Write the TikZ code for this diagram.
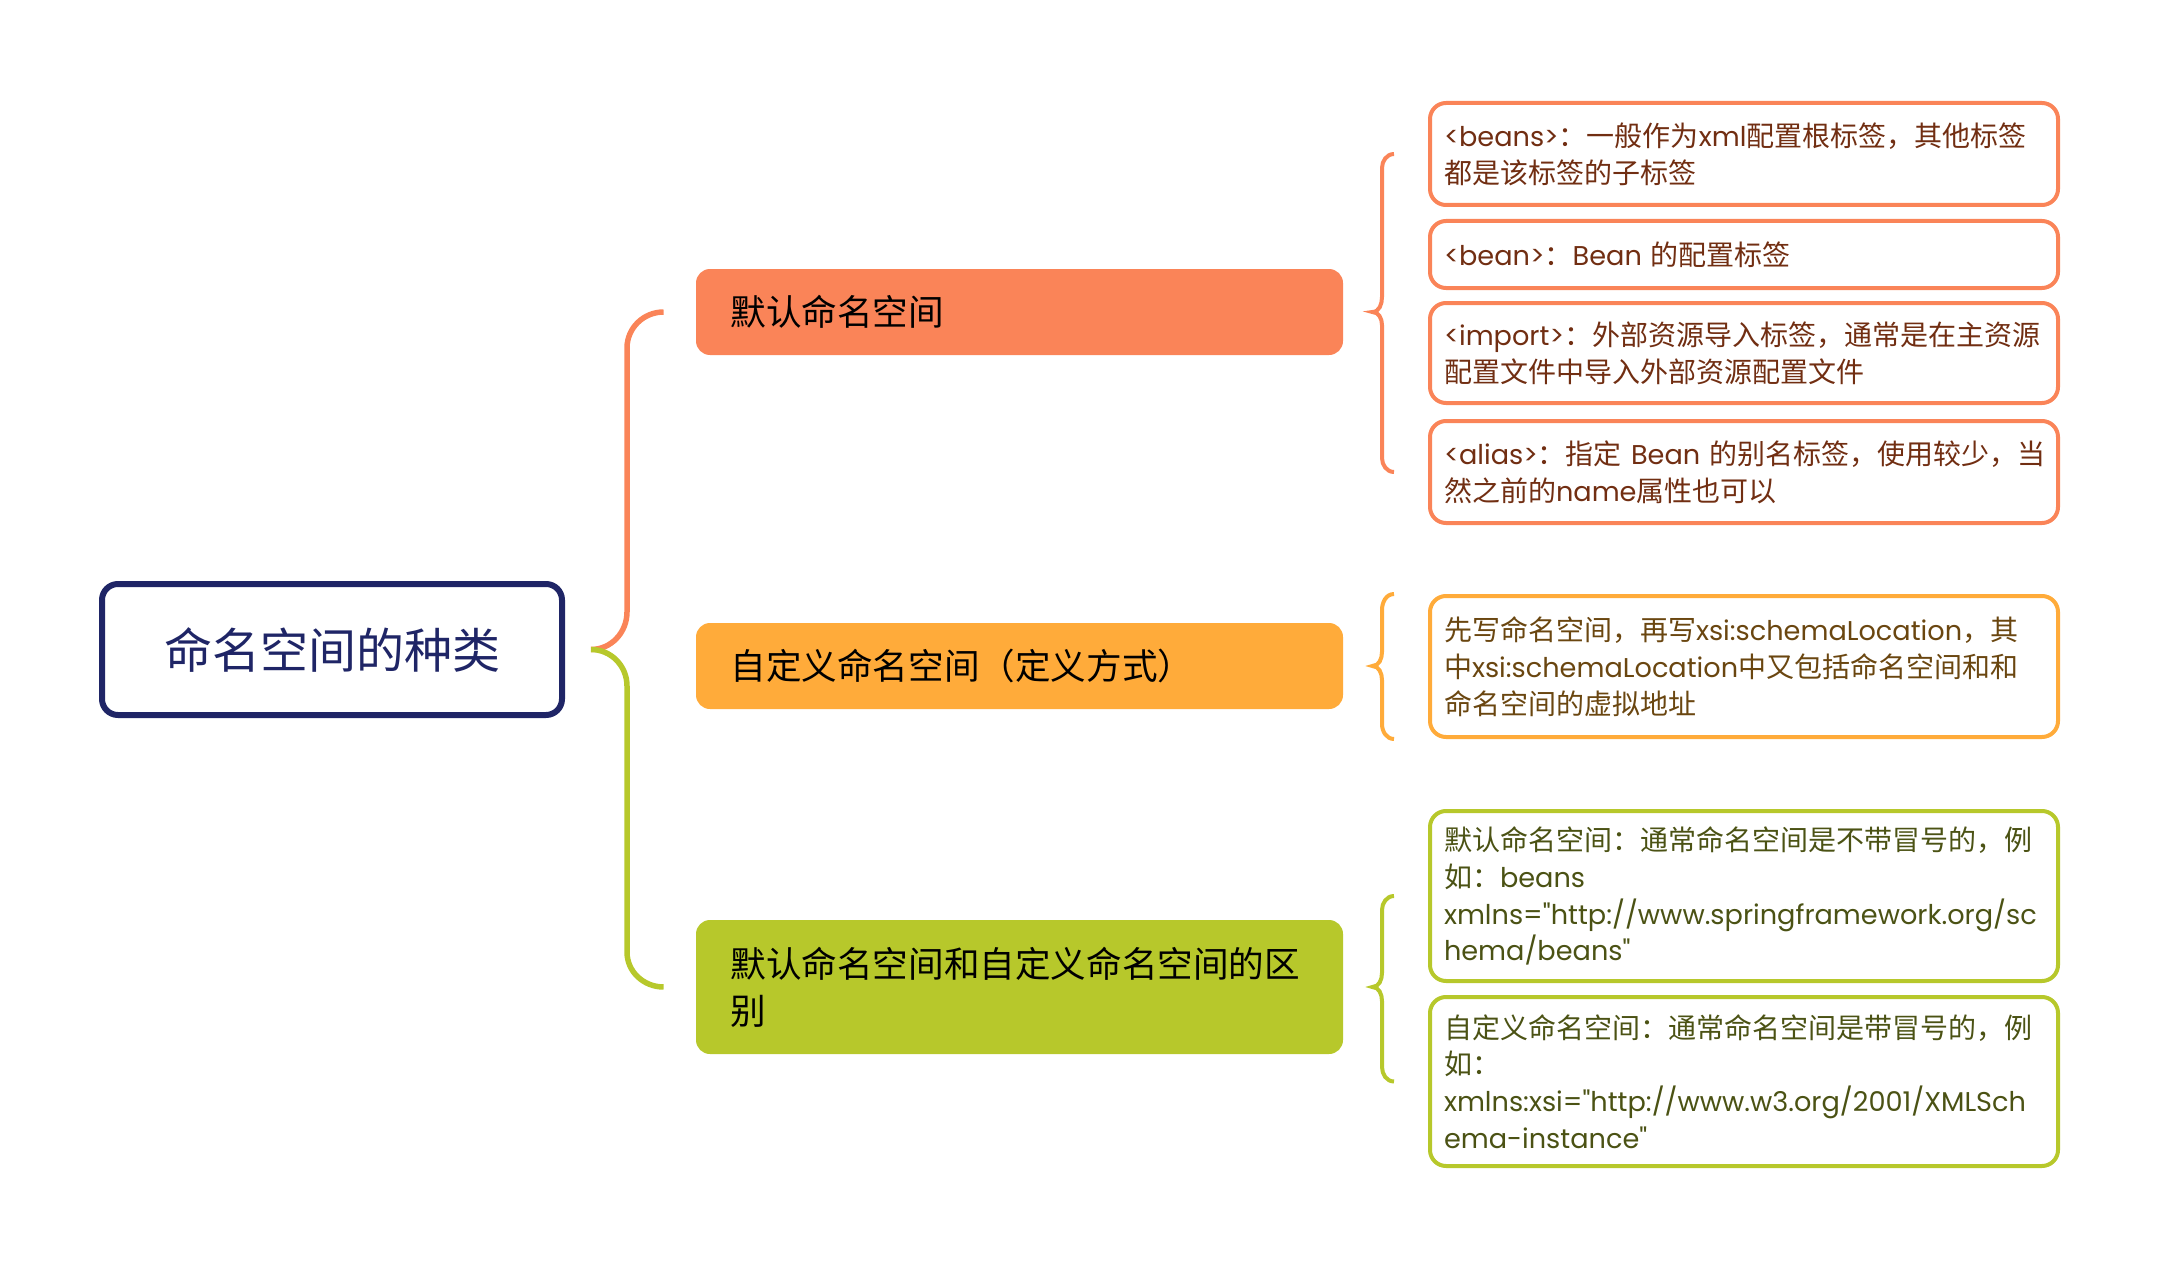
\documentclass[tikz,border=0pt]{standalone}
\usepackage{fontspec}
\setmainfont[Scale=0.97]{Poppins}
\newfontfamily\cjkfont{Noto Sans CJK SC}
\newfontfamily\latfont[Scale=0.97]{Poppins}
% chinese letters get the cjk font, the rest stays latin
\XeTeXinterchartokenstate=1
\newXeTeXintercharclass\hanclass
\def\sethan#1#2{\count255=#1 \loop\XeTeXcharclass\count255=\hanclass\relax\ifnum\count255<#2 \advance\count255 by 1 \repeat}
\sethan{"3000}{"303F}
\sethan{"4E00}{"9FFF}
\sethan{"FF00}{"FFEF}
\XeTeXinterchartoks 0 \hanclass = {\cjkfont}
\XeTeXinterchartoks 4095 \hanclass = {\cjkfont}
\XeTeXinterchartoks \hanclass 0 = {\latfont}
\XeTeXinterchartoks 4095 0 = {\latfont}

\definecolor{mmNavy}{HTML}{1F2566}
\definecolor{mmOrange}{HTML}{FA8458}
\definecolor{mmYellow}{HTML}{FFAB3A}
\definecolor{mmGreen}{HTML}{B7C82B}
\definecolor{txOrange}{HTML}{712E12}
\definecolor{txYellow}{HTML}{6A4610}
\definecolor{txGreen}{HTML}{4B5214}

\begin{document}
\begin{tikzpicture}[x=0.5pt,y=-0.5pt,
rootbox/.style={draw=mmNavy,line width=3pt,rounded corners=8pt,text=mmNavy,minimum width=230pt,minimum height=65.5pt,font=\fontsize{24pt}{28pt}\selectfont},
topicbox/.style={fill=#1,rounded corners=7pt,text=black,text width=289pt,inner xsep=17.25pt,align=left,font=\fontsize{17.8pt}{23.4pt}\selectfont},
notebox/.style={draw=#1,line width=2pt,rounded corners=8pt,text width=300pt,inner xsep=7pt,align=left,font=\fontsize{14pt}{18.4pt}\selectfont},
link/.style={line width=2.75pt},
brace/.style={line width=2pt}
]
\useasboundingbox (0,0) rectangle (2160,1268);

\node[rootbox] (root) at (332,649.5) {命名空间的种类};

\node[topicbox=mmOrange,minimum height=43pt] (b1) at (1019.5,312) {默认命名空间};
\node[topicbox=mmYellow,minimum height=43pt] (b2) at (1019.5,666) {自定义命名空间（定义方式）};
\node[topicbox=mmGreen,minimum height=67pt] (b3) at (1019.5,987) {默认命名空间和自定义命名空间的区\\别};

\node[notebox=mmOrange,text=txOrange,minimum height=51pt] (l1) at (1744,154) {<beans>：一般作为xml配置根标签，其他标签\\都是该标签的子标签};
\node[notebox=mmOrange,text=txOrange,minimum height=33.5pt] (l2) at (1744,254.5) {<bean>：Bean~的配置标签};
\node[notebox=mmOrange,text=txOrange,minimum height=50pt] (l3) at (1744,353) {<import>：外部资源导入标签，通常是在主资源\\配置文件中导入外部资源配置文件};
\node[notebox=mmOrange,text=txOrange,minimum height=51pt] (l4) at (1744,472) {<alias>：指定~Bean~的别名标签，使用较少，当\\然之前的name属性也可以};
\node[notebox=mmYellow,text=txYellow,minimum height=70.5pt] (l5) at (1744,666.5) {先写命名空间，再写xsi:schemaLocation，其\\中xsi:schemaLocation中又包括命名空间和和\\命名空间的虚拟地址};
\node[notebox=mmGreen,text=txGreen,minimum height=85pt] (l6) at (1744,896) {默认命名空间：通常命名空间是不带冒号的，例\\如：beans\\xmlns="http://www.springframework.org/sc\\hema/beans"};
\node[notebox=mmGreen,text=txGreen,minimum height=84.5pt] (l7) at (1744,1081.5) {自定义命名空间：通常命名空间是带冒号的，例\\如：\\xmlns:xsi="http://www.w3.org/2001/XMLSch\\ema-instance"};

% root to topics
\coordinate (j) at ([xshift=13pt]root.east);
\coordinate (e1) at ([xshift=-16pt]b1.west);
\coordinate (e3) at ([xshift=-16pt]b3.west);
\draw[link,mmOrange] (j) to[out=0,in=-90] (627,612) -- (627,348) to[out=90,in=180] (e1);
\draw[link,mmGreen] (j) to[out=0,in=90] (627,686) -- (627,952) to[out=-90,in=180] (e3);

% braces to notes
\coordinate (p1) at ([xshift=14.5pt]b1.east);
\coordinate (p2) at ([xshift=14.5pt]b2.east);
\coordinate (p3) at ([xshift=14.5pt]b3.east);
\coordinate (t1) at ([xshift=-17pt]l1.west);
\coordinate (t4) at ([xshift=-17pt]l4.west);
\coordinate (t5a) at ([xshift=-17pt]l5.north west);
\coordinate (t5b) at ([xshift=-17pt]l5.south west);
\coordinate (t6) at ([xshift=-17pt]l6.west);
\coordinate (t7) at ([xshift=-17pt]l7.west);
\draw[brace,mmOrange] (t1) to[out=180,in=90] (1382,168) -- (1382,297) to[out=-90,in=0] (p1) to[out=0,in=90] (1382,325) -- (1382,458) to[out=-90,in=180] (t4);
\draw[brace,mmYellow] (t5a) to[out=180,in=90] (1382,610) -- (1382,652) to[out=-90,in=0] (p2) to[out=0,in=90] (1382,680) -- (1382,724) to[out=-90,in=180] (t5b);
\draw[brace,mmGreen] (t6) to[out=180,in=90] (1382,910) -- (1382,973) to[out=-90,in=0] (p3) to[out=0,in=90] (1382,1001) -- (1382,1067) to[out=-90,in=180] (t7);
\end{tikzpicture}
\end{document}
